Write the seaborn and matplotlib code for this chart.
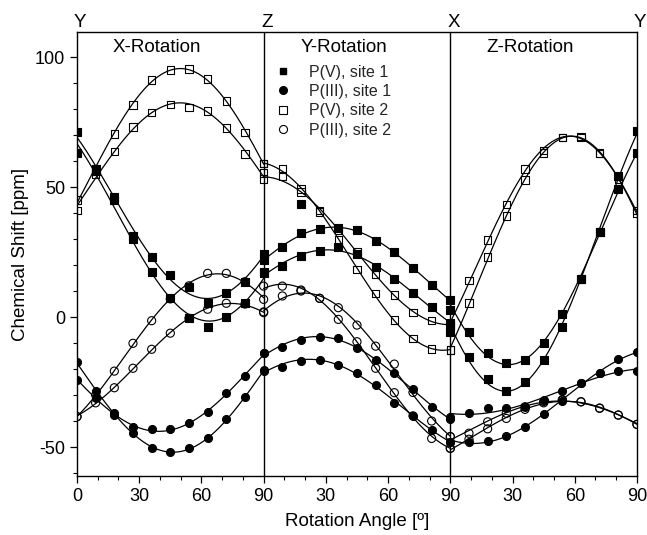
import numpy as np
import pandas as pd
import matplotlib
matplotlib.use("Agg")
import matplotlib.pyplot as plt
import seaborn as sns
from matplotlib.lines import Line2D
from matplotlib.ticker import MultipleLocator
import matplotlib.transforms as mtransforms

# ---------------- data ----------------
angles = [0, 9, 18, 27, 36, 45, 54, 63, 72, 81, 90]
panels = ["X-Rotation", "Y-Rotation", "Z-Rotation"]
axis_letters = ["Y", "Z", "X", "Y"]
series_labels = ["P(V), site 1", "P(III), site 1", "P(V), site 2", "P(III), site 2"]
x_tick_values = [0, 30, 60, 90, 120, 150, 180, 210, 240, 270]
x_tick_labels = ["0", "30", "60", "90", "30", "60", "90", "30", "60", "90"]
y_tick_values = [-50, 0, 50, 100]

# X-Rotation
xr_pv1_a = [71, 57, 46, 31, 23.2, 16.2, 11.7, 5.3, 9.1, 13.6, 24.2]
xr_pv1_b = [63, 56, 45, 30, 17.4, 7.2, -0.5, -3.7, 0.1, 5.5, 17.2]
xr_p31_a = [-24.2, -31.3, -37, -42.4, -43.1, -43.2, -40.9, -36.7, -29.4, -22.7, -14]
xr_p31_b = [-17.2, -28.5, -37.5, -44.5, -50.3, -51.8, -50.5, -46.7, -39.4, -30.9, -20.7]
xr_pv2_a = [45, 57, 70.3, 81.5, 91.2, 95, 95.5, 91.5, 83, 71, 59]
xr_pv2_b = [41, 55, 63.6, 73.2, 78.7, 81.8, 80.6, 79.3, 72.8, 62.7, 55.3]
xr_p32_a = [-38.3, -30, -20.8, -10.1, -1.4, 7, 12, 16.8, 16.8, 13.6, 6.8]
xr_p32_b = [-38.3, -33, -27.2, -19.7, -12.4, -6.2, -0.5, 3, 5.3, 5, 1.7]

# Y-Rotation
yr_pv1_a = [22, 26.8, 32.2, 33.8, 34.4, 33.5, 29.3, 24.9, 19, 12.3, 6.5]
yr_pv1_b = [16.8, 19.6, 23.6, 25.5, 26.8, 24.1, 19.1, 14.5, 9.3, 4, -2.4]
yr_pv1_extra_angle = [18]
yr_pv1_extra = [43.5]
yr_p31_a = [-14, -11.4, -8.8, -7.6, -8.2, -12, -16.5, -21.4, -27.8, -34.5, -39.4]
yr_p31_b = [-20.4, -19.1, -16.8, -16.5, -18.5, -21.4, -26, -33, -38.1, -43.5, -48]
yr_pv2_a = [53, 54, 48, 41, 33.5, 25, 16.4, 8.5, 1.7, -1.4, -3]
yr_pv2_b = [59, 57.2, 49.2, 40.5, 29.6, 18.3, 9.1, -1.2, -8.2, -12.4, -12.7]
yr_p32_a = [11.9, 11.9, 10.4, 7.2, -0.9, -9.5, -19.7, -29.1, -38, -46.7, -50.5]
yr_p32_b = [2, 8.1, 10, 7.2, 3.6, -3.1, -11.2, -18.1, -29, -40, -46]

# Z-Rotation
zr_pv1_a = [2.7, -5.9, -13.7, -17.8, -16.5, -9.9, 1.2, 14.5, 32.8, 49.1, 63.2]
zr_pv1_b = [-5.7, -15.5, -24, -28.5, -24.9, -16.5, -3.7, 14.5, 32.8, 54.2, 71.5]
zr_p31_a = [-38.3, -37, -35.1, -34.9, -34.7, -31.9, -28.5, -25.5, -21.7, -20.8, -20.6]
zr_p31_b = [-48.2, -48, -47.6, -45.8, -42.2, -37.4, -32.3, -25.5, -21.7, -16.3, -13.3]
zr_pv2_a = [-3, 14, 29.6, 43.3, 56.9, 64, 69.1, 69.1, 62.9, 53, 41]
zr_pv2_b = [-12.7, 5.3, 23, 38.8, 52.7, 63, 69, 69.5, 63, 53, 40]
zr_p32_a = [-46, -44.7, -40.3, -37, -34.5, -32.5, -31.8, -32.6, -35.1, -37.7, -41.3]
zr_p32_b = [-50.5, -47, -43, -39, -35.5, -33, -32, -32.6, -35, -37.7, -41.3]

panel_data = [
    [(xr_pv1_a, xr_pv1_b), (xr_p31_a, xr_p31_b), (xr_pv2_a, xr_pv2_b), (xr_p32_a, xr_p32_b)],
    [(yr_pv1_a, yr_pv1_b), (yr_p31_a, yr_p31_b), (yr_pv2_a, yr_pv2_b), (yr_p32_a, yr_p32_b)],
    [(zr_pv1_a, zr_pv1_b), (zr_p31_a, zr_p31_b), (zr_pv2_a, zr_pv2_b), (zr_p32_a, zr_p32_b)],
]

# ---------------- tables ----------------
rows = []
for p, plist in enumerate(panel_data):
    for s, branches in enumerate(plist):
        for b, vals in enumerate(branches):
            for a, v in zip(angles, vals):
                rows.append(dict(panel=p, series=series_labels[s], branch=b,
                                 angle=a, x=p * 90 + a, shift=v))
pts = pd.DataFrame(rows)
extra = pd.DataFrame(dict(x=[90 + a for a in yr_pv1_extra_angle], shift=yr_pv1_extra,
                          series=series_labels[0]))

# least-squares fit of  A + B cos(2t) + C sin(2t)  for each branch
curve_rows = []
tt = np.linspace(0, 90, 181)
for (p, s, b), g in pts.groupby(["panel", "series", "branch"]):
    th = np.radians(g["angle"].to_numpy()) * 2
    M = np.column_stack([np.ones_like(th), np.cos(th), np.sin(th)])
    coef, *_ = np.linalg.lstsq(M, g["shift"].to_numpy(), rcond=None)
    t2 = np.radians(tt) * 2
    yy = coef[0] + coef[1] * np.cos(t2) + coef[2] * np.sin(t2)
    key = f"{p}-{s}-{b}"
    for t, y in zip(tt, yy):
        curve_rows.append(dict(key=key, x=p * 90 + t, shift=y))
curves = pd.DataFrame(curve_rows)

# ---------------- plot ----------------
sns.set_theme(style="ticks")
plt.rcParams["font.family"] = ["Liberation Sans", "DejaVu Sans"]
plt.rcParams["axes.edgecolor"] = "black"
plt.rcParams["axes.linewidth"] = 1.0
plt.rcParams["axes.unicode_minus"] = False

fig = plt.figure(figsize=(6.47, 5.35), dpi=100)
ax = fig.add_axes([0.119, 0.110, 0.8655, 0.830])

sns.lineplot(data=curves, x="x", y="shift", units="key", estimator=None,
             color="black", linewidth=0.9, ax=ax, legend=False, zorder=2)

styles = {
    series_labels[0]: dict(marker="s", s=27, color="black", facecolor="black"),
    series_labels[1]: dict(marker="o", s=33, color="black", facecolor="black"),
    series_labels[2]: dict(marker="s", s=30, color="black", facecolor="none"),
    series_labels[3]: dict(marker="o", s=34, color="black", facecolor="none"),
}
for lab in series_labels:
    sub = pts[pts["series"] == lab]
    st = styles[lab]
    sns.scatterplot(data=sub, x="x", y="shift", marker=st["marker"], s=st["s"],
                    color=st["color"], facecolor=st["facecolor"], edgecolor="black",
                    linewidth=0.8, ax=ax, legend=False, zorder=3)
st = styles[series_labels[0]]
sns.scatterplot(data=extra, x="x", y="shift", marker=st["marker"], s=st["s"],
                color="black", facecolor="black", edgecolor="black",
                linewidth=0.8, ax=ax, legend=False, zorder=3)

for xv in (90, 180):
    ax.axvline(xv, color="black", lw=1.0, zorder=1)

ax.set_xlim(0, 270)
ax.set_ylim(-61.2, 109.6)
ax.set_xticks(x_tick_values)
ax.set_xticklabels(x_tick_labels)
ax.set_yticks(y_tick_values)
ax.xaxis.set_minor_locator(MultipleLocator(10))
ax.yaxis.set_minor_locator(MultipleLocator(10))
ax.tick_params(which="major", direction="out", length=5, width=0.9, colors="black",
               labelsize=13, top=False, right=False)
ax.tick_params(which="minor", direction="out", length=3, width=0.8, colors="black",
               top=False, right=False)
ax.set_xlabel("Rotation Angle [º]", fontsize=13.5, color="black", labelpad=6)
ax.set_ylabel("Chemical Shift [ppm]", fontsize=13.5, color="black", labelpad=4)
for sp in ax.spines.values():
    sp.set_visible(True)
    sp.set_color("black")

for i, name in enumerate(panels):
    ax.text(i * 90 + 38.5, 103.5, name, ha="center", va="center", fontsize=13.5,
            color="black")

trans = mtransforms.blended_transform_factory(ax.transData, ax.transAxes)
for i, let in enumerate(axis_letters):
    ax.annotate(let, xy=(i * 90 + 1.5, 1.0), xycoords=trans, xytext=(0, 1),
                textcoords="offset points", ha="center", va="bottom",
                fontsize=13.5, color="black", annotation_clip=False)

handles = [
    Line2D([], [], marker="s", ls="none", color="black", markersize=5),
    Line2D([], [], marker="o", ls="none", color="black", markersize=5.5),
    Line2D([], [], marker="s", ls="none", markerfacecolor="none",
           markeredgecolor="black", markersize=5.3, markeredgewidth=0.8),
    Line2D([], [], marker="o", ls="none", markerfacecolor="none",
           markeredgecolor="black", markersize=5.8, markeredgewidth=0.8),
]
ax.legend(handles, series_labels, loc="upper left", bbox_to_anchor=(0.3536, 0.927),
          frameon=False, fontsize=11.5, handlelength=1.0, handletextpad=1.1,
          labelspacing=0.28, borderpad=0, borderaxespad=0)

fig.savefig("out.png", dpi=100)
